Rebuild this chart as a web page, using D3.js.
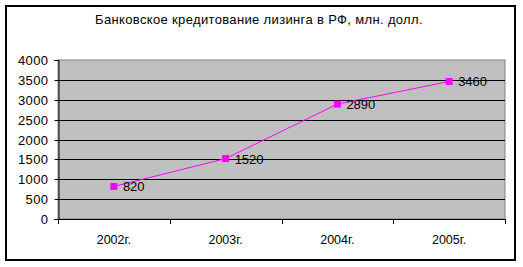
<!DOCTYPE html>
<html><head><meta charset="utf-8">
<script src="https://cdn.jsdelivr.net/npm/d3@7"></script>
<style>body{margin:0;background:#fff;}svg{display:block;font-family:Arial,"Liberation Sans",sans-serif;}</style>
</head><body><svg id="c" width="523" height="267"></svg>
<script>
const title = "Банковское кредитование лизинга в РФ, млн. долл.";
const categories = ["2002г.", "2003г.", "2004г.", "2005г."];
const values = [820, 1520, 2890, 3460];
const yTicks = [0, 500, 1000, 1500, 2000, 2500, 3000, 3500, 4000];

const svg = d3.select("#c");
const L = 58, R = 505, T = 60, B = 219;

svg.append("rect").attr("x", 6).attr("y", 6).attr("width", 509).attr("height", 254)
  .attr("fill", "#fff").attr("stroke", "#000").attr("stroke-width", 2);

svg.append("text").attr("x", 259).attr("y", 24).attr("text-anchor", "middle")
  .attr("font-size", 13).attr("letter-spacing", 0.35).attr("fill", "#000").text(title);

const x = d3.scaleBand().domain(categories).range([L, R]);
const y = d3.scaleLinear().domain([0, 4000]).range([B, T]);

svg.append("rect").attr("x", L).attr("y", T).attr("width", R - L).attr("height", B - T)
  .attr("fill", "#C0C0C0").attr("stroke", "#808080").attr("stroke-width", 1);

svg.append("g").selectAll("line").data(yTicks.filter(d => d > 0 && d < 4000)).join("line")
  .attr("x1", L).attr("x2", R)
  .attr("y1", d => Math.round(y(d)) + 0.5).attr("y2", d => Math.round(y(d)) + 0.5)
  .attr("stroke", "#000").attr("stroke-width", 1);

// y axis
const yAxis = svg.append("g").attr("transform", `translate(${L + 0.5},0)`)
  .call(d3.axisLeft(y).tickValues(yTicks).tickFormat(d3.format("d")).tickSize(4).tickPadding(6));
yAxis.select(".domain").attr("stroke", "#000");
yAxis.selectAll(".tick line").attr("stroke", "#000");
yAxis.selectAll(".tick text").attr("font-size", 13).attr("letter-spacing", 0.4).attr("font-family", "Arial").attr("fill", "#000");
yAxis.selectAll(".tick").attr("transform", d => `translate(0,${Math.round(y(d)) + 0.5})`);

// x axis
const xAxis = svg.append("g").attr("transform", `translate(0,${B + 0.5})`)
  .call(d3.axisBottom(x).tickSize(0).tickPadding(16));
xAxis.select(".domain").remove();
xAxis.selectAll(".tick text").attr("font-size", 12.5).attr("font-family", "Arial").attr("fill", "#000");
svg.append("line").attr("x1", L - 4).attr("x2", R).attr("y1", B + 0.5).attr("y2", B + 0.5).attr("stroke", "#000");
const bounds = categories.map(c => x(c)).concat([R]);
svg.append("g").selectAll("line").data(bounds).join("line")
  .attr("x1", d => Math.round(d) + 0.5).attr("x2", d => Math.round(d) + 0.5)
  .attr("y1", B).attr("y2", B + 5).attr("stroke", "#000");

const cx = c => x(c) + x.bandwidth() / 2;
const line = d3.line().x((d, i) => cx(categories[i])).y(d => y(d));
svg.append("path").datum(values).attr("d", line).attr("fill", "none")
  .attr("stroke", "#FF00FF").attr("stroke-width", 1);

svg.append("g").selectAll("rect").data(values).join("rect")
  .attr("x", (d, i) => cx(categories[i]) - 3.5).attr("y", d => y(d) - 3.5)
  .attr("width", 7).attr("height", 7).attr("fill", "#FF00FF");

svg.append("g").selectAll("text").data(values).join("text")
  .attr("x", (d, i) => cx(categories[i]) + 9).attr("y", d => y(d) + 5)
  .attr("font-size", 13).attr("fill", "#000").text(d => d);
</script></body></html>
